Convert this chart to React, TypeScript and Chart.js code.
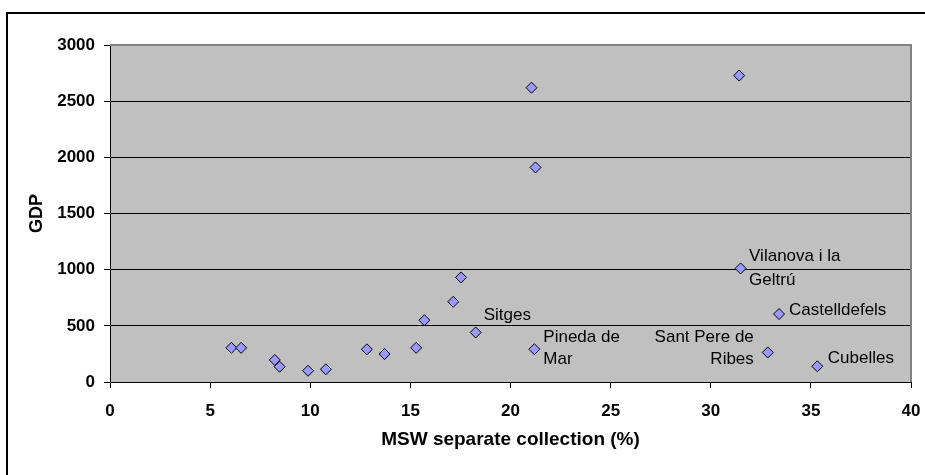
import React, { useEffect, useRef } from "react";
import { Chart, registerables } from "chart.js";

Chart.register(...registerables);

// MSW separate collection (%) for each municipality
const collection = [6.06, 6.55, 8.23, 8.47, 9.89, 10.78, 12.83, 13.71, 15.29, 15.7, 17.14, 17.53, 18.26, 21.05, 21.25, 21.19, 31.42, 31.49, 32.85, 33.41, 35.32];
// GDP for each municipality
const gdp = [304, 304, 196, 136, 100, 113, 291, 249, 304, 550, 714, 931, 441, 2620, 1910, 292, 2728, 1011, 263, 605, 140];
// Point names (lines of text), empty when unlabeled
const names: string[][] = [
  [], [], [], [], [], [], [], [], [], [], [], [],
  ["Sitges"],
  [], [],
  ["Pineda de", "Mar"],
  [],
  ["Vilanova i la", "Geltrú"],
  ["Sant Pere de", "Ribes"],
  ["Castelldefels"],
  ["Cubelles"],
];
const xTitle = "MSW separate collection (%)";
const yTitle = "GDP";

// Label placement (style only): text anchor offset from point, alignment, line offsets
const labelStyle: Record<number, { dx: number; align: CanvasTextAlign; dys: number[] }> = {
  12: { dx: 8, align: "left", dys: [-17.5] },
  15: { dx: 9, align: "left", dys: [-11.5, 10.2] },
  17: { dx: 8.5, align: "left", dys: [-12.5, 11.5] },
  18: { dx: -14, align: "right", dys: [-14.8, 6.9] },
  19: { dx: 10, align: "left", dys: [-3.3] },
  20: { dx: 10.5, align: "left", dys: [-8] },
};

const FONT = "'Liberation Sans', Arial, Helvetica, sans-serif";

const frame = {
  id: "frame",
  beforeDraw(chart: any) {
    const { ctx, chartArea: a } = chart;
    ctx.save();
    ctx.fillStyle = "#ffffff";
    ctx.fillRect(0, 0, chart.width, chart.height);
    ctx.strokeStyle = "#000000";
    ctx.lineWidth = 2;
    ctx.strokeRect(7, 13, chart.width + 10, chart.height + 10);
    ctx.fillStyle = "#C0C0C0";
    ctx.fillRect(a.left, a.top, a.right - a.left, a.bottom - a.top);
    ctx.restore();
  },
  beforeDatasetsDraw(chart: any) {
    const { ctx, chartArea: a } = chart;
    ctx.save();
    ctx.strokeStyle = "#808080";
    ctx.lineWidth = 2;
    ctx.beginPath();
    ctx.moveTo(a.left, a.top);
    ctx.lineTo(a.right, a.top);
    ctx.lineTo(a.right, a.bottom);
    ctx.stroke();
    ctx.restore();
  },
  afterDatasetsDraw(chart: any) {
    const { ctx } = chart;
    const meta = chart.getDatasetMeta(0);
    ctx.save();
    ctx.font = `17px ${FONT}`;
    ctx.fillStyle = "#000000";
    ctx.textBaseline = "middle";
    names.forEach((lines, i) => {
      if (!lines.length) return;
      const st = labelStyle[i];
      const pt = meta.data[i];
      ctx.textAlign = st.align;
      lines.forEach((line, j) => {
        ctx.fillText(line, pt.x + st.dx, pt.y + st.dys[j]);
      });
    });
    ctx.restore();
  },
};

export default function App() {
  const ref = useRef<HTMLCanvasElement>(null);
  useEffect(() => {
    const chart = new Chart(ref.current as HTMLCanvasElement, {
      type: "scatter",
      data: {
        datasets: [
          {
            data: collection.map((x, i) => ({ x, y: gdp[i] })),
            pointStyle: "rectRot",
            pointRadius: 5.5,
            pointHoverRadius: 5.5,
            backgroundColor: "#9999FF",
            borderColor: "#000000",
            borderWidth: 1,
          },
        ],
      },
      options: {
        animation: false,
        responsive: false,
        devicePixelRatio: 1,
        layout: { padding: { top: 45, right: 14, left: 0, bottom: 0 } },
        plugins: { legend: { display: false }, tooltip: { enabled: false } },
        scales: {
          x: {
            type: "linear",
            min: 0,
            max: 40,
            afterFit: (s: any) => {
              s.height = 93;
              s.paddingLeft = 0;
              s.paddingRight = 0;
            },
            ticks: {
              stepSize: 5,
              color: "#000",
              padding: 13,
              font: { family: FONT, size: 17, weight: "bold" },
              callback: (v: any) => String(v),
            },
            grid: { drawOnChartArea: false, drawTicks: true, tickLength: 6, tickColor: "#000" },
            border: { color: "#000", width: 1 },
            title: {
              display: true,
              text: xTitle,
              color: "#000",
              font: { family: FONT, size: 19, weight: "bold" },
              padding: { top: 0, bottom: 23.5 },
            },
          },
          y: {
            min: 0,
            max: 3000,
            afterFit: (s: any) => {
              s.width = 110;
              s.paddingTop = 0;
              s.paddingBottom = 0;
            },
            ticks: {
              stepSize: 500,
              color: "#000",
              padding: 9,
              font: { family: FONT, size: 17, weight: "bold" },
              callback: (v: any) => String(v),
            },
            grid: {
              color: (c: any) => (c.tick && c.tick.value === 3000 ? "rgba(0,0,0,0)" : "#000"),
              lineWidth: 1,
              drawTicks: true,
              tickLength: 6,
              tickColor: "#000",
            },
            border: { color: "#000", width: 1 },
            title: {
              display: true,
              text: yTitle,
              color: "#000",
              font: { family: FONT, size: 18, weight: "bold" },
              padding: { top: 26, bottom: 0 },
            },
          },
        },
      },
      plugins: [frame],
    });
    return () => chart.destroy();
  }, []);
  return (
    <div style={{ position: "fixed", left: 0, top: 0, width: 925, height: 475, background: "#fff" }}>
      <canvas ref={ref} width={925} height={475} />
    </div>
  );
}
